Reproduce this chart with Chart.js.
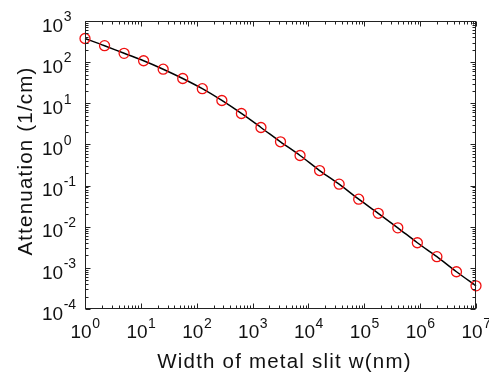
<!DOCTYPE html>
<html><head><meta charset="utf-8">
<script src="https://cdn.jsdelivr.net/npm/chart.js@4"></script>
<style>html,body{margin:0;padding:0;background:#fff;}canvas{display:block;}</style>
</head><body>
<canvas id="c" width="489" height="375"></canvas>
<script>
// ---- data ----
const widths = [1, 2.24, 5.01, 11.2, 25.1, 56.2, 126, 282, 631, 1413, 3162, 7079, 15849, 35481, 79433, 177828, 398107, 891251, 1995262, 4466836, 10000000];
const attenuation = [376, 251, 164, 108, 67.3, 40.0, 22.6, 11.7, 5.65, 2.58, 1.16, 0.538, 0.232, 0.108, 0.0466, 0.0212, 0.0094, 0.00408, 0.00187, 0.000805, 0.000366];
const xTickExponents = ['0', '1', '2', '3', '4', '5', '6', '7'];
const yTickExponents = ['-4', '-3', '-2', '-1', '0', '1', '2', '3'];
const xTitle = 'Width of metal slit w(nm)';
const yTitle = 'Attenuation (1/cm)';

const FONT = '"Liberation Sans", Arial, Helvetica, sans-serif';
const INK = '#111';

function drawMinorMajor(ctx, scale, horizontal, area) {
  const min = scale.min, max = scale.max;
  const d0 = Math.floor(Math.log10(min)), d1 = Math.ceil(Math.log10(max));
  for (let d = d0; d <= d1; d++) {
    for (let m = 1; m <= 9; m++) {
      const v = m * Math.pow(10, d);
      if (v < min * 0.999 || v > max * 1.001) continue;
      const p = Math.round(scale.getPixelForValue(v)) + 0.5;
      const len = m === 1 ? 5 : 3;
      ctx.beginPath();
      if (horizontal) {
        ctx.moveTo(p, area.bottom); ctx.lineTo(p, area.bottom - len);
        ctx.moveTo(p, area.top); ctx.lineTo(p, area.top + len);
      } else {
        ctx.moveTo(area.left, p); ctx.lineTo(area.left + len, p);
        ctx.moveTo(area.right, p); ctx.lineTo(area.right - len, p);
      }
      ctx.stroke();
    }
  }
}

const matlabAxes = {
  id: 'matlabAxes',
  afterDraw(chart) {
    const ctx = chart.ctx, a = chart.chartArea;
    const xs = chart.scales.x, ys = chart.scales.y;
    ctx.save();
    ctx.strokeStyle = '#222';
    ctx.lineWidth = 1;
    const L = Math.round(a.left) + 0.5, R = Math.round(a.right) - 0.5;
    const T = Math.round(a.top) + 0.5, B = Math.round(a.bottom) - 0.5;
    ctx.strokeRect(L, T, R - L, B - T);
    const box = {left: L, right: R, top: T, bottom: B};
    drawMinorMajor(ctx, xs, true, box);
    drawMinorMajor(ctx, ys, false, box);

    ctx.fillStyle = INK;
    ctx.textBaseline = 'alphabetic';
    ctx.textAlign = 'left';
    const baseFont = '19px ' + FONT, supFont = '14px ' + FONT;
    // x tick labels
    xTickExponents.forEach(e => {
      const px = xs.getPixelForValue(Math.pow(10, Number(e)));
      ctx.font = baseFont; const wb = ctx.measureText('10').width;
      ctx.font = supFont; const ws = ctx.measureText(e).width;
      const x0 = px - (wb + ws) / 2;
      ctx.font = baseFont; ctx.fillText('10', x0, 338);
      ctx.font = supFont; ctx.fillText(e, x0 + wb + 0.5, 327.5);
    });
    // y tick labels
    yTickExponents.forEach(e => {
      const py = ys.getPixelForValue(Math.pow(10, Number(e)));
      ctx.font = baseFont; const wb = ctx.measureText('10').width;
      const x0 = 42;
      ctx.fillText('10', x0, py + 10.7);
      ctx.font = supFont; ctx.fillText(e, x0 + wb + 0.5, py + 0.3);
    });
    // titles
    try { ctx.letterSpacing = '1.2px'; } catch (err) {}
    ctx.font = '20.5px ' + FONT;
    ctx.textAlign = 'center';
    ctx.fillText(xTitle, (a.left + a.right) / 2 + 4, 368);
    ctx.save();
    ctx.translate(32, (a.top + a.bottom) / 2 - 4);
    ctx.rotate(-Math.PI / 2);
    ctx.fillText(yTitle, 0, 0);
    ctx.restore();
    ctx.restore();
  }
};

new Chart(document.getElementById('c'), {
  type: 'line',
  data: {
    datasets: [{
      data: widths.map((w, i) => ({x: w, y: attenuation[i]})),
      borderColor: '#000',
      borderWidth: 1.5,
      cubicInterpolationMode: 'monotone',
      pointRadius: 5,
      pointHoverRadius: 5,
      pointBorderColor: '#f01010',
      pointBackgroundColor: 'rgba(0,0,0,0)',
      pointBorderWidth: 1.3,
      clip: false
    }]
  },
  options: {
    responsive: false,
    animation: false,
    devicePixelRatio: 1,
    layout: {padding: {top: 21, right: 13, left: 0, bottom: 0}},
    plugins: {legend: {display: false}, tooltip: {enabled: false}},
    events: [],
    scales: {
      x: {
        type: 'logarithmic', min: 1, max: 1e7,
        grid: {display: false}, border: {display: false},
        ticks: {display: false},
        afterFit: s => { s.height = 66; }
      },
      y: {
        type: 'logarithmic', min: 1e-4, max: 1e3,
        grid: {display: false}, border: {display: false},
        ticks: {display: false},
        afterFit: s => { s.width = 85; }
      }
    }
  },
  plugins: [matlabAxes]
});
</script>
</body></html>
